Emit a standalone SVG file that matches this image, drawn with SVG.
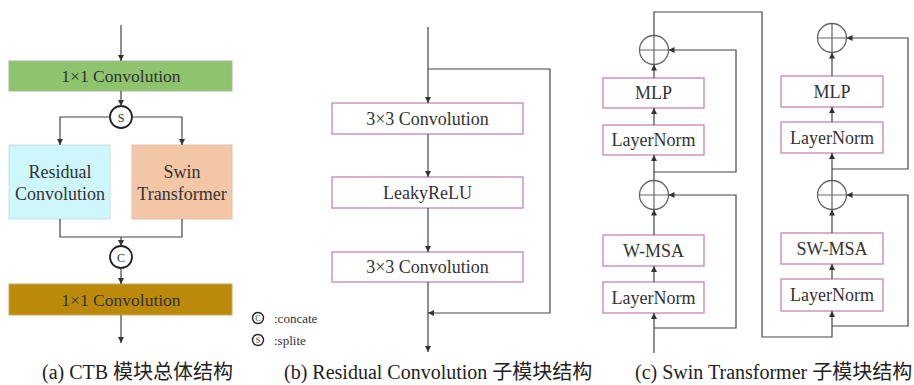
<svg xmlns="http://www.w3.org/2000/svg" width="914" height="385" viewBox="0 0 914 385">
<defs>
<marker id="ah" viewBox="0 0 6 6" refX="6" refY="3" markerWidth="6" markerHeight="6" markerUnits="userSpaceOnUse" orient="auto">
<path d="M0,0 L6,3 L0,6 Z" fill="#333"/>
</marker>
<style>
.t{font-family:"Liberation Serif","Times New Roman",serif;fill:#333;text-anchor:middle}
.b{font-size:18px}
.lg{font-family:"Liberation Serif","Times New Roman",serif;fill:#333;font-size:13px}
.pb{fill:#fff;stroke:#c585b8;stroke-width:1.3}
.ln{fill:none;stroke:#444;stroke-width:1.2}
.ar{fill:none;stroke:#444;stroke-width:1.2;marker-end:url(#ah)}
.pc{fill:#fff;stroke:#666;stroke-width:1.3}
.cap{font-family:"Liberation Serif","Times New Roman","Noto Sans CJK SC",serif;font-size:20px;fill:#222}
</style>
</defs>
<rect width="914" height="385" fill="#fff"/>

<g id="a-conv1">
<rect x="9" y="61" width="223" height="30" fill="#8fc46f" stroke="#a6b89a" stroke-width="1"/>
<text class="t" x="121" y="82" font-size="17.5">1×1 Convolution</text>
</g>
<g id="a-split">
<circle cx="121" cy="117" r="11" fill="#fff" stroke="#222" stroke-width="1.8"/>
<text class="t" x="121" y="121.5" font-size="12">S</text>
</g>
<g id="a-residual">
<rect x="9" y="145" width="101" height="74" fill="#cdf7fb" stroke="#c6dfe2" stroke-width="1"/>
<text class="t b" x="60" y="178">Residual</text>
<text class="t b" x="60" y="199.5">Convolution</text>
</g>
<g id="a-swin">
<rect x="132" y="145" width="100" height="74" fill="#f3c6a6" stroke="#e2c0ad" stroke-width="1"/>
<text class="t b" x="182" y="178">Swin</text>
<text class="t b" x="182" y="199.5">Transformer</text>
</g>
<g id="a-concat">
<circle cx="121" cy="257" r="11" fill="#fff" stroke="#222" stroke-width="1.8"/>
<text class="t" x="121" y="261.5" font-size="12">C</text>
</g>
<g id="a-conv2">
<rect x="9" y="284" width="223" height="31" fill="#bc8a0b" stroke="#c9a860" stroke-width="1"/>
<text class="t" x="121" y="305.5" font-size="17.5">1×1 Convolution</text>
</g>
<g id="a-legend">
<circle cx="258" cy="318" r="5.5" fill="#fff" stroke="#222" stroke-width="1.4"/>
<text class="t" x="258" y="321" font-size="8">C</text>
<text class="lg" x="274" y="322.5">:concate</text>
<circle cx="258" cy="340" r="5.5" fill="#fff" stroke="#222" stroke-width="1.4"/>
<text class="t" x="258" y="343" font-size="8">S</text>
<text class="lg" x="274" y="344.5">:splite</text>
</g>

<g id="b-conv1">
<rect class="pb" x="332" y="103" width="191" height="31"/>
<text class="t b" x="427.5" y="124.5">3×3 Convolution</text>
</g>
<g id="b-relu">
<rect class="pb" x="332" y="177" width="191" height="31"/>
<text class="t b" x="427.5" y="198.5">LeakyReLU</text>
</g>
<g id="b-conv2">
<rect class="pb" x="332" y="252" width="191" height="30"/>
<text class="t b" x="427.5" y="273">3×3 Convolution</text>
</g>

<g id="c-add1">
<circle class="pc" cx="654" cy="195" r="14.5"/>
<path d="M639.5,195 H668.5 M654,180.5 V209.5" stroke="#666" stroke-width="1.2"/>
</g>
<g id="c-add2">
<circle class="pc" cx="654" cy="50" r="14.5"/>
<path d="M639.5,50 H668.5 M654,35.5 V64.5" stroke="#666" stroke-width="1.2"/>
</g>
<g id="c-mlp1">
<rect class="pb" x="603" y="78" width="101" height="30"/>
<text class="t b" x="653.5" y="99">MLP</text>
</g>
<g id="c-ln2">
<rect class="pb" x="603" y="125" width="101" height="30"/>
<text class="t b" x="653.5" y="146">LayerNorm</text>
</g>
<g id="c-wmsa">
<rect class="pb" x="603" y="235" width="101" height="31"/>
<text class="t b" x="653.5" y="256.5">W-MSA</text>
</g>
<g id="c-ln1">
<rect class="pb" x="603" y="282" width="101" height="31"/>
<text class="t b" x="653.5" y="303.5">LayerNorm</text>
</g>

<g id="c-add3">
<circle class="pc" cx="832" cy="195" r="14.5"/>
<path d="M817.5,195 H846.5 M832,180.5 V209.5" stroke="#666" stroke-width="1.2"/>
</g>
<g id="c-add4">
<circle class="pc" cx="832" cy="38" r="14.5"/>
<path d="M817.5,38 H846.5 M832,23.5 V52.5" stroke="#666" stroke-width="1.2"/>
</g>
<g id="c-mlp2">
<rect class="pb" x="781" y="76" width="102" height="31"/>
<text class="t b" x="832" y="97.5">MLP</text>
</g>
<g id="c-ln4">
<rect class="pb" x="781" y="122" width="102" height="31"/>
<text class="t b" x="832" y="143.5">LayerNorm</text>
</g>
<g id="c-swmsa">
<rect class="pb" x="781" y="233" width="102" height="31"/>
<text class="t b" x="832" y="254.5">SW-MSA</text>
</g>
<g id="c-ln3">
<rect class="pb" x="781" y="279" width="102" height="32"/>
<text class="t b" x="832" y="301">LayerNorm</text>
</g>

<g id="connectors">
<path class="ar" d="M121,25 V61"/>
<path class="ar" d="M121,91 V106"/>
<path class="ar" d="M110,117 H60 V145"/>
<path class="ar" d="M132,117 H182 V145"/>
<path class="ln" d="M60,219 V237 H182 V219"/>
<path class="ar" d="M121,237 V246"/>
<path class="ar" d="M121,268 V284"/>
<path class="ar" d="M121,315 V343"/>
<path class="ar" d="M428,27 V103"/>
<path class="ar" d="M428,69 H550 V313 H428"/>
<path class="ar" d="M428,134 V177"/>
<path class="ar" d="M428,208 V252"/>
<path class="ar" d="M428,282 V352"/>
<path class="ar" d="M654,353 V313"/>
<path class="ar" d="M654,328 H736 V195 H668.5"/>
<path class="ar" d="M654,282 V266"/>
<path class="ar" d="M654,235 V209.5"/>
<path class="ar" d="M654,180.5 V155"/>
<path class="ar" d="M654,172 H736 V50 H668.5"/>
<path class="ar" d="M654,125 V108"/>
<path class="ar" d="M654,78 V64.5"/>
<path class="ar" d="M654,35.5 V12 H762 V337 H832 V311"/>
<path class="ar" d="M832,326 H908 V195 H846.5"/>
<path class="ar" d="M832,279 V264"/>
<path class="ar" d="M832,233 V209.5"/>
<path class="ar" d="M832,180.5 V153"/>
<path class="ar" d="M832,169 H908 V38 H846.5"/>
<path class="ar" d="M832,122 V107"/>
<path class="ar" d="M832,76 V52.5"/>
</g>

<text class="cap" x="42" y="379">(a) CTB 模块总体结构</text>
<text class="cap" x="284" y="379">(b) Residual Convolution 子模块结构</text>
<text class="cap" x="635" y="379">(c) Swin Transformer 子模块结构</text>
</svg>
